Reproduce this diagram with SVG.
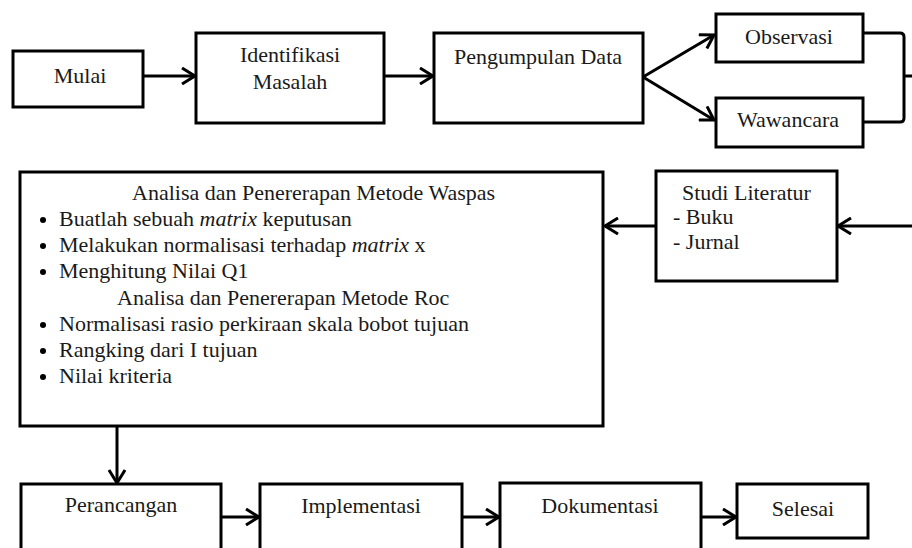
<svg xmlns="http://www.w3.org/2000/svg" width="912" height="548" viewBox="0 0 912 548">
<defs>
<style>
.box{fill:#fff;stroke:#000;stroke-width:3}
.t{font-family:"Liberation Serif","Times New Roman",serif;font-size:22px;fill:#1a1a1a}
.c{text-anchor:middle}
.ln{fill:none;stroke:#000;stroke-width:3}
.arr{marker-end:url(#ah)}
</style>
<marker id="ah" viewBox="0 0 16 18" refX="14" refY="9" markerWidth="16" markerHeight="18" markerUnits="userSpaceOnUse" orient="auto">
<path d="M1,1 L14,9 L1,17" fill="none" stroke="#000" stroke-width="3"/>
</marker>
</defs>
<rect width="912" height="548" fill="#fff"/>

<g id="connectors">
<line class="ln arr" x1="143" y1="76" x2="195" y2="76"/>
<line class="ln arr" x1="384" y1="76" x2="433" y2="76"/>
<line class="ln arr" x1="643" y1="77" x2="714" y2="35"/>
<line class="ln arr" x1="643" y1="77" x2="714" y2="120"/>
<path class="ln" d="M863,33 H900 Q904,33 904,37 V118 Q904,122 900,122 H863 M904,76 H912"/>
<line class="ln arr" x1="912" y1="226" x2="838" y2="226"/>
<line class="ln arr" x1="655" y1="226" x2="605" y2="226"/>
<line class="ln arr" x1="117" y1="426" x2="117" y2="483"/>
<line class="ln arr" x1="221" y1="517" x2="259" y2="517"/>
<line class="ln arr" x1="462" y1="517" x2="499" y2="517"/>
<line class="ln arr" x1="701" y1="517" x2="736" y2="517"/>
</g>

<g id="mulai">
<rect class="box" x="13" y="51" width="130" height="56"/>
<text class="t c" x="80" y="83">Mulai</text>
</g>
<g id="identifikasi">
<rect class="box" x="196" y="33" width="188" height="90"/>
<text class="t c" x="290" y="62">Identifikasi</text>
<text class="t c" x="290" y="89">Masalah</text>
</g>
<g id="pengumpulan">
<rect class="box" x="434" y="33" width="209" height="90"/>
<text class="t c" x="538" y="64">Pengumpulan Data</text>
</g>
<g id="observasi">
<rect class="box" x="716" y="14" width="147" height="48"/>
<text class="t c" x="789" y="44">Observasi</text>
</g>
<g id="wawancara">
<rect class="box" x="716" y="98" width="147" height="49"/>
<text class="t c" x="788" y="127">Wawancara</text>
</g>
<g id="studi">
<rect class="box" x="656" y="171" width="181" height="110"/>
<text class="t" x="682" y="200">Studi Literatur</text>
<text class="t" x="673" y="224">- Buku</text>
<text class="t" x="673" y="249">- Jurnal</text>
</g>
<g id="analisa">
<rect class="box" x="20" y="172" width="583" height="254"/>
<text class="t" x="132" y="200">Analisa dan Penererapan Metode Waspas</text>
<circle cx="43" cy="220" r="3"/>
<text class="t" x="59" y="226">Buatlah sebuah <tspan font-style="italic">matrix</tspan> keputusan</text>
<circle cx="43" cy="246" r="3"/>
<text class="t" x="59" y="252">Melakukan normalisasi terhadap <tspan font-style="italic">matrix</tspan> x</text>
<circle cx="43" cy="272" r="3"/>
<text class="t" x="59" y="278">Menghitung Nilai Q1</text>
<text class="t" x="117" y="305">Analisa dan Penererapan Metode Roc</text>
<circle cx="43" cy="325" r="3"/>
<text class="t" x="59" y="331">Normalisasi rasio perkiraan skala bobot tujuan</text>
<circle cx="43" cy="351" r="3"/>
<text class="t" x="59" y="357">Rangking dari I tujuan</text>
<circle cx="43" cy="377" r="3"/>
<text class="t" x="59" y="383">Nilai kriteria</text>
</g>
<g id="perancangan">
<rect class="box" x="21" y="484" width="200" height="80"/>
<text class="t c" x="121" y="512">Perancangan</text>
</g>
<g id="implementasi">
<rect class="box" x="260" y="484" width="202" height="80"/>
<text class="t c" x="361" y="513">Implementasi</text>
</g>
<g id="dokumentasi">
<rect class="box" x="500" y="483" width="201" height="80"/>
<text class="t c" x="600" y="513">Dokumentasi</text>
</g>
<g id="selesai">
<rect class="box" x="737" y="484" width="131" height="54"/>
<text class="t c" x="803" y="516">Selesai</text>
</g>
</svg>
